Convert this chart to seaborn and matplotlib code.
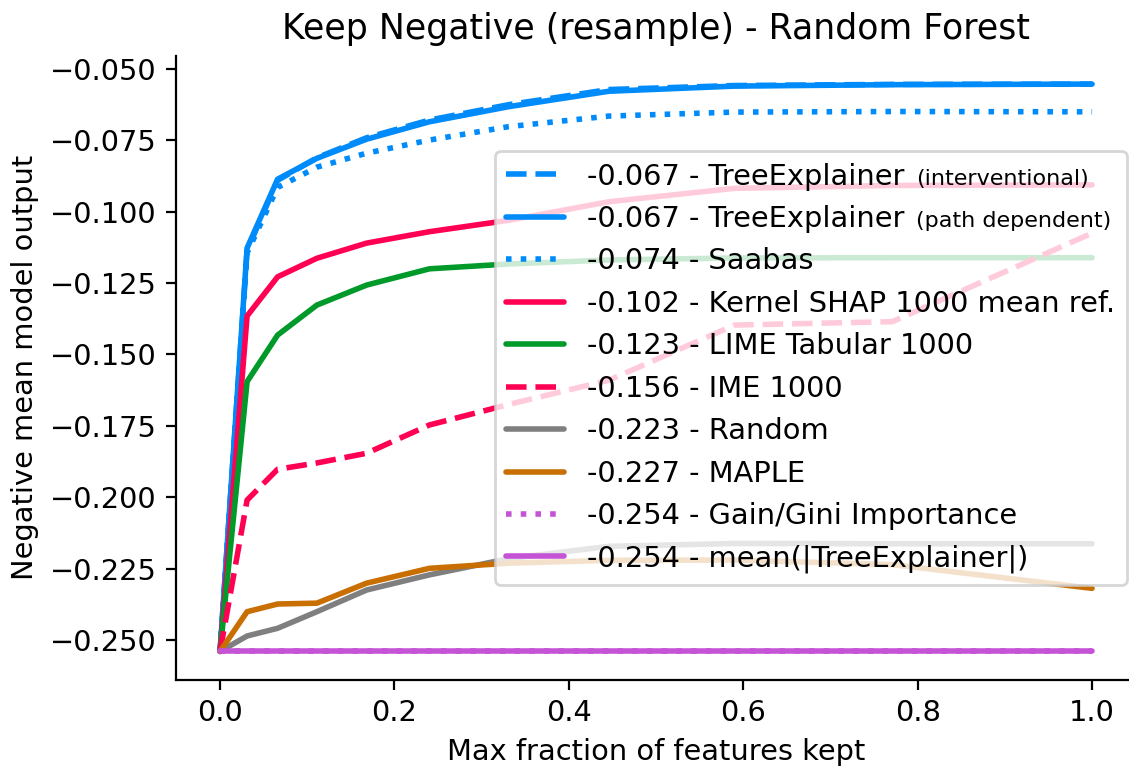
import matplotlib
matplotlib.use("Agg")
import matplotlib.pyplot as plt
import seaborn as sns
from matplotlib.offsetbox import HPacker, TextArea

# Fraction of features kept at each evaluation step
frac_kept = [0.0, 0.031, 0.066, 0.111, 0.168, 0.240, 0.331, 0.446, 0.590, 0.771, 1.0]

# Negative mean model output for each explanation method
tree_interventional = [-0.254, -0.1135, -0.0890, -0.0811, -0.0741, -0.0679, -0.0625, -0.0572, -0.0558, -0.0554, -0.0553]
tree_path_dependent = [-0.254, -0.1127, -0.0886, -0.0813, -0.0746, -0.0685, -0.0632, -0.0578, -0.0560, -0.0555, -0.0553]
saabas = [-0.254, -0.1144, -0.0915, -0.0844, -0.0795, -0.0749, -0.0702, -0.0665, -0.0651, -0.0649, -0.0650]
kernel_shap = [-0.254, -0.1365, -0.1228, -0.1163, -0.1110, -0.1070, -0.1030, -0.0965, -0.0918, -0.0908, -0.0906]
lime_tabular = [-0.254, -0.1595, -0.1432, -0.1327, -0.1257, -0.1200, -0.1183, -0.1169, -0.1162, -0.1161, -0.1161]
ime = [-0.254, -0.2010, -0.1902, -0.1880, -0.1846, -0.1747, -0.1675, -0.1590, -0.1397, -0.1385, -0.1075]
random_order = [-0.254, -0.2486, -0.2459, -0.2401, -0.2325, -0.2272, -0.2215, -0.2172, -0.2162, -0.2163, -0.2163]
maple = [-0.254, -0.2401, -0.2374, -0.2371, -0.2301, -0.2249, -0.2231, -0.2221, -0.2220, -0.2236, -0.2319]
gain_gini = [-0.254, -0.254, -0.254, -0.254, -0.254, -0.254, -0.254, -0.254, -0.254, -0.254, -0.254]
mean_abs_tree = [-0.254, -0.254, -0.254, -0.254, -0.254, -0.254, -0.254, -0.254, -0.254, -0.254, -0.254]

# Legend text: area score, method name and an optional small-print qualifier
scores = ["-0.067", "-0.067", "-0.074", "-0.102", "-0.123", "-0.156", "-0.223", "-0.227", "-0.254", "-0.254"]
methods = ["TreeExplainer", "TreeExplainer", "Saabas", "Kernel SHAP 1000 mean ref.",
           "LIME Tabular 1000", "IME 1000", "Random", "MAPLE", "Gain/Gini Importance",
           "mean(|TreeExplainer|)"]
qualifiers = ["(interventional)", "(path dependent)", "", "", "", "", "", "", "", ""]

series = [tree_interventional, tree_path_dependent, saabas, kernel_shap, lime_tabular,
          ime, random_order, maple, gain_gini, mean_abs_tree]
colors = ["#008bfb", "#008bfb", "#008bfb", "#ff0052", "#009a2a", "#ff0052",
          "#7f7f7f", "#c96e00", "#c553d6", "#c553d6"]
styles = ["--", "-", ":", "-", "-", "--", "-", "-", ":", "-"]

sns.set_style("ticks", {
    "axes.edgecolor": "black", "xtick.color": "black", "ytick.color": "black",
    "text.color": "black", "axes.labelcolor": "black",
    "xtick.major.size": 3.5, "ytick.major.size": 3.5,
})
plt.rcParams["font.family"] = ["DejaVu Sans"]
plt.rcParams["font.size"] = 10.4

fig = plt.figure(figsize=(5.645, 3.83), dpi=200)
ax = fig.add_axes([0.1563, 0.1127, 0.8496, 0.8144])

for vals, col, ls, sc, name in zip(series, colors, styles, scores, methods):
    sns.lineplot(x=frac_kept, y=vals, color=col, linestyle=ls, linewidth=2,
                 label=f"{sc} - {name}", ax=ax, legend=False)

ax.set_xlim(-0.05, 1.05)
ax.set_ylim(-0.2639, -0.0454)
ax.set_yticks([-0.250, -0.225, -0.200, -0.175, -0.150, -0.125, -0.100, -0.075, -0.050])
ax.set_xticks([0.0, 0.2, 0.4, 0.6, 0.8, 1.0])
ax.tick_params(labelsize=10.4, width=0.8)
ax.set_xlabel("Max fraction of features kept", fontsize=10.4)
ax.set_ylabel("Negative mean model output", fontsize=10.4)
ax.set_title("Keep Negative (resample) - Random Forest", fontsize=12.5)
sns.despine(ax=ax)
for sp in ("left", "bottom"):
    ax.spines[sp].set_linewidth(0.8)

leg = ax.legend(loc="center right", fontsize=10.4, frameon=True,
                labelspacing=0.5, borderaxespad=0.3)

# Append the smaller qualifier text after the relevant legend labels
columns = leg._legend_handle_box.get_children()
entries = columns[0].get_children()
for entry, qual in zip(entries, qualifiers):
    if not qual:
        continue
    kids = entry.get_children()
    small = TextArea(qual, textprops=dict(fontsize=8, color="black"))
    packed = HPacker(children=[kids[1], small], align="baseline", pad=0, sep=4)
    packed.set_figure(fig)
    kids[1] = packed

fig.savefig("out.png", dpi=200)
